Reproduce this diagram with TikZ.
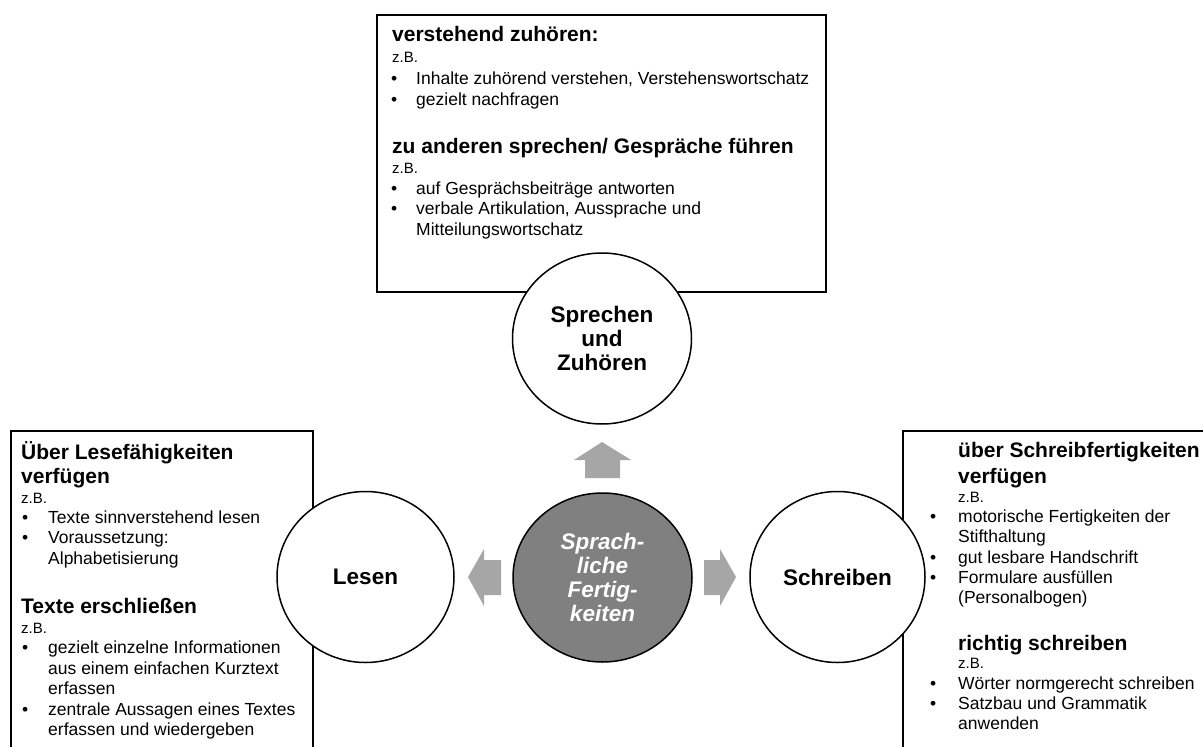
\documentclass[tikz,border=0pt]{standalone}
\usepackage{fontspec}
\setmainfont{Liberation Sans}
\usetikzlibrary{shapes.geometric}
\definecolor{arrowgray}{HTML}{A6A6A6}
\definecolor{centergray}{HTML}{808080}
\tikzset{
  boxline/.style={draw=black, line width=1.2pt},
  circ/.style={ellipse, draw=black, line width=1.5pt, fill=white, inner sep=0pt,
    align=center, font=\fontsize{22.5}{24}\selectfont\bfseries},
  head/.style={anchor=base west, inner sep=0pt, font=\fontsize{21}{24}\selectfont\bfseries},
  zb/.style={anchor=base west, inner sep=0pt, font=\fontsize{15}{17}\selectfont},
  body/.style={anchor=base west, inner sep=0pt, font=\fontsize{17.5}{20}\selectfont},
  bul/.style={anchor=base west, inner sep=0pt, font=\fontsize{17.5}{20}\selectfont},
  blockarrow/.style={fill=arrowgray, draw=none}
}
\newcommand\bitem[5]{\node[bul] (#1b) at (#2,#4) {\textbullet}; \node[body] (#1) at (#3,#4) {#5};}
\begin{document}
\begin{tikzpicture}[x=1pt,y=-1pt]
\useasboundingbox (0,0) rectangle (1203,747);
\clip (0,0) rectangle (1203,747);
% boxes
\draw[boxline] (377,15) rectangle (826,292);
\draw[boxline] (11,760) -- (11,431) -- (313,431) -- (313,760);
\draw[boxline] (903,760) -- (903,431) -- (1220,431);
% block arrows
\fill[blockarrow] (602,442) -- (631,460) -- (620,460) -- (620,478) -- (585,478) -- (585,460) -- (574,460) -- cycle;
\fill[blockarrow] (468,577) -- (484,549) -- (484,560) -- (501,560) -- (501,595) -- (484,595) -- (484,606) -- cycle;
\fill[blockarrow] (736,577) -- (720,549) -- (720,560) -- (704,560) -- (704,595) -- (720,595) -- (720,606) -- cycle;
% circles
\node[circ, minimum width=179pt, minimum height=171pt] (sz) at (602,338.5) {Sprechen\\und\\Zuhören};
\node[circ, minimum width=177pt, minimum height=171pt] (lesen) at (365.5,577) {Lesen};
\node[circ, minimum width=175pt, minimum height=171pt] (schreiben) at (837.5,577) {Schreiben};
\node[circ, fill=centergray, text=white, minimum width=179pt, minimum height=169pt,
  font=\fontsize{22.5}{23.7}\selectfont\bfseries\itshape] (center) at (602.5,577.5) {Sprach-\\liche\\Fertig-\\keiten};
% top box text
\node[head] (t1) at (392,41.7) {verstehend zuhören:};
\node[zb] (t2) at (392,62) {z.B.};
\bitem{t3}{391}{416}{84}{Inhalte zuhörend verstehen, Verstehenswortschatz}
\bitem{t4}{391}{416}{105}{gezielt nachfragen}
\node[head] (t5) at (392,153) {zu anderen sprechen/ Gespräche führen};
\node[zb] (t6) at (392,173) {z.B.};
\bitem{t7}{391}{416}{194}{auf Gesprächsbeiträge antworten}
\bitem{t8}{391}{416}{214}{verbale Artikulation, Aussprache und}
\node[body] (t9) at (416,235) {Mitteilungswortschatz};
% left box text
\node[head] (l1) at (21,459) {Über Lesefähigkeiten};
\node[head] (l2) at (21,483) {verfügen};
\node[zb] (l3) at (21,503) {z.B.};
\bitem{l4}{22}{48}{523}{Texte sinnverstehend lesen}
\bitem{l5}{22}{48}{543}{Voraussetzung:}
\node[body] (l6) at (48,564) {Alphabetisierung};
\node[head] (l7) at (21,613) {Texte erschließen};
\node[zb] (l8) at (21,633) {z.B.};
\bitem{l9}{22}{48}{653}{gezielt einzelne Informationen}
\node[body] (l10) at (48,674) {aus einem einfachen Kurztext};
\node[body] (l11) at (48,694) {erfassen};
\bitem{l12}{22}{48}{715}{zentrale Aussagen eines Textes}
\node[body] (l13) at (48,735) {erfassen und wiedergeben};
% right box text
\node[head] (r1) at (958,457) {über Schreibfertigkeiten};
\node[head] (r2) at (958,483) {verfügen};
\node[zb] (r3) at (958,502) {z.B.};
\bitem{r4}{930}{958}{522}{motorische Fertigkeiten der}
\node[body] (r5) at (958,542) {Stifthaltung};
\bitem{r6}{930}{958}{563}{gut lesbare Handschrift}
\bitem{r7}{930}{958}{583}{Formulare ausfüllen}
\node[body] (r8) at (958,603) {(Personalbogen)};
\node[head] (r9) at (958,650) {richtig schreiben};
\node[zb] (r10) at (958,668) {z.B.};
\bitem{r11}{930}{958}{689}{Wörter normgerecht schreiben}
\bitem{r12}{930}{958}{709}{Satzbau und Grammatik}
\node[body] (r13) at (958,729) {anwenden};
\end{tikzpicture}
\end{document}
